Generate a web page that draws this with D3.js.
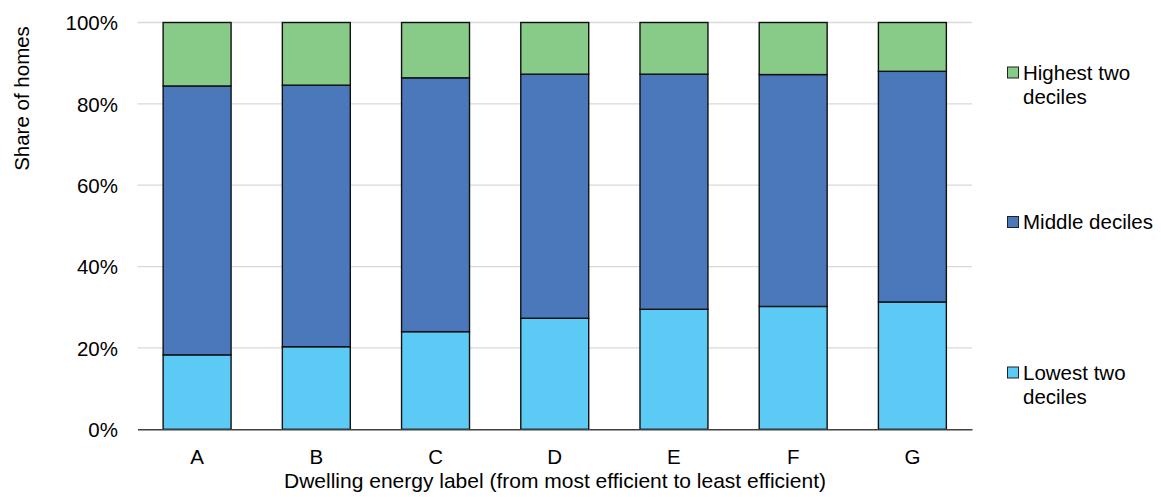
<!DOCTYPE html>
<html><head><meta charset="utf-8">
<script src="https://cdn.jsdelivr.net/npm/d3@7/dist/d3.min.js"></script>
<style>body{margin:0;background:#fff;font-family:Arial,"Liberation Sans",sans-serif;}</style>
</head><body><svg id="c" width="1161" height="497"></svg>
<script>
const categories = ["A","B","C","D","E","F","G"];
const lowest = [18.3, 20.3, 24.0, 27.3, 29.5, 30.2, 31.3];
const middle = [66.1, 64.3, 62.4, 60.0, 57.8, 57.0, 56.7];
const highest = [15.6, 15.4, 13.6, 12.7, 12.7, 12.8, 12.0];
const seriesNames = ["Lowest two deciles","Middle deciles","Highest two deciles"];
const seriesColors = ["#5BCBF5","#4A78BA","#88CA88"];
const yTicks = [0,20,40,60,80,100];

const FONT = "Arial,'Liberation Sans',sans-serif";
const FS = 20.5;
const svg = d3.select("#c");
const L = 137.5, R = 972, T = 22.5, B = 429.3;
const x = d3.scaleBand().domain(categories).range([L,R]).paddingInner(0.43).paddingOuter(0.215);
const y = d3.scaleLinear().domain([0,100]).range([B,T]);

// gridlines
svg.append("g").selectAll("line").data(yTicks.filter(d=>d>0)).join("line")
  .attr("x1",L).attr("x2",R).attr("y1",d=>y(d)).attr("y2",d=>y(d))
  .attr("stroke","#d9d9d9").attr("stroke-width",1.3);

// y axis labels
const yAxis = d3.axisLeft(y).tickValues(yTicks).tickFormat(d=>d+"%").tickSize(0).tickPadding(19.5);
const ya = svg.append("g").attr("transform",`translate(${L},0)`).call(yAxis);
ya.select(".domain").remove();
ya.attr("font-size",FS).attr("font-family",FONT);
ya.selectAll("text").attr("fill","#000").attr("dy","0.35em");

// stacked data
const rows = categories.map((c,i)=>({cat:c, "Lowest two deciles":lowest[i], "Middle deciles":middle[i], "Highest two deciles":highest[i]}));
const stack = d3.stack().keys(seriesNames)(rows);
svg.append("g").selectAll("g").data(stack).join("g")
  .attr("fill",(d,i)=>seriesColors[i])
  .selectAll("rect").data(d=>d).join("rect")
  .attr("x",d=>x(d.data.cat)).attr("width",x.bandwidth())
  .attr("y",d=>y(d[1])).attr("height",d=>y(d[0])-y(d[1]))
  .attr("stroke","#111").attr("stroke-width",1.4);

// x axis
const xa = svg.append("g").attr("transform",`translate(0,${B})`)
  .call(d3.axisBottom(x).tickSize(0).tickPadding(20));
xa.attr("font-size",FS).attr("font-family",FONT);
xa.select(".domain").attr("stroke","#404040").attr("stroke-width",1.5);
xa.selectAll("text").attr("fill","#000");

// axis titles
svg.append("text").attr("x",555).attr("y",488).attr("text-anchor","middle")
  .attr("font-size",21).attr("font-family",FONT).text("Dwelling energy label (from most efficient to least efficient)");
svg.append("text").attr("transform","translate(29,98.5) rotate(-90)").attr("text-anchor","middle")
  .attr("font-size",FS).attr("font-family",FONT).text("Share of homes");

// legend
const legendItems = [
  {name:"Highest two deciles", lines:["Highest two","deciles"], color:seriesColors[2], y:72.5},
  {name:"Middle deciles", lines:["Middle deciles"], color:seriesColors[1], y:222},
  {name:"Lowest two deciles", lines:["Lowest two","deciles"], color:seriesColors[0], y:372.5}
];
const lg = svg.append("g").selectAll("g").data(legendItems).join("g");
lg.append("rect").attr("x",1007.5).attr("y",d=>d.y-5.5).attr("width",11).attr("height",11)
  .attr("fill",d=>d.color).attr("stroke","#222").attr("stroke-width",1);
lg.each(function(d){
  const t = d3.select(this).append("text").attr("x",1023).attr("y",d.y)
    .attr("font-size",FS).attr("font-family",FONT);
  d.lines.forEach((ln,i)=>t.append("tspan").attr("x",1023).attr("dy",i===0?"0.35em":"1.2em").text(ln));
});
</script></body></html>
